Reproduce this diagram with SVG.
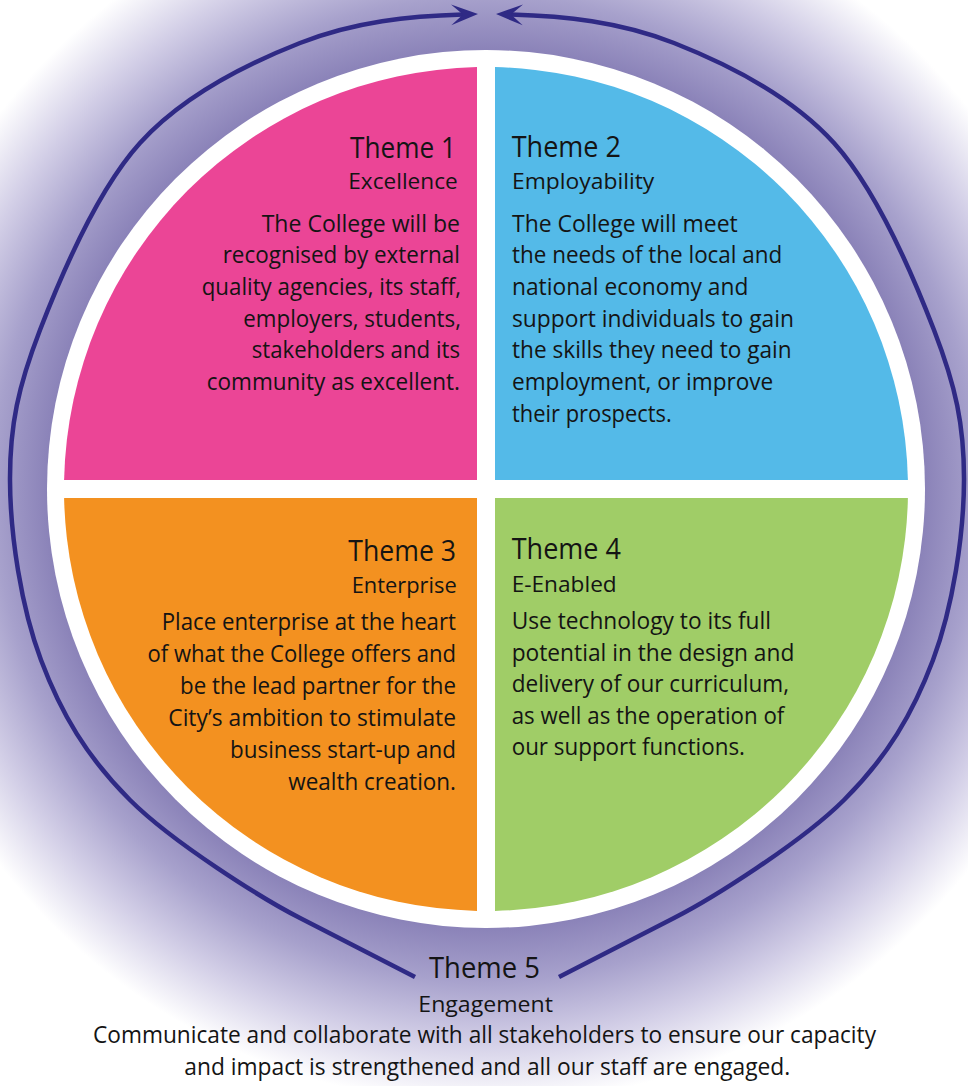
<svg xmlns="http://www.w3.org/2000/svg" width="968" height="1086" viewBox="0 0 968 1086">
<defs>
<radialGradient id="halo" gradientUnits="userSpaceOnUse" cx="486" cy="489" r="615">
<stop offset="0" stop-color="#8a82b8"/>
<stop offset="0.712" stop-color="#8a82b8"/>
<stop offset="0.8" stop-color="#a7a1cc"/>
<stop offset="0.9" stop-color="#d3cfe7"/>
<stop offset="1" stop-color="#ffffff"/>
</radialGradient>
<marker id="ah" markerUnits="userSpaceOnUse" viewBox="0 0 28 22" markerWidth="28" markerHeight="22" refX="12" refY="11" orient="auto">
<path d="M0,0.5 L27,11 L0,21.5 L12,11 Z" fill="#2f2a85"/>
</marker>
<style>
.t{font-family:"Open Sans","Noto Sans","DejaVu Sans",sans-serif;fill:#141414;}
.h{font-size:29px;}
.s{font-size:22px;}
.b{font-size:23.6px;}
.f{font-size:23px;}
.arc{fill:none;stroke:#2f2a85;stroke-width:4.5;marker-end:url(#ah);}
</style>
</defs>
<g id="background">
<rect x="0" y="0" width="968" height="1086" fill="url(#halo)"/>
<circle cx="486" cy="489" r="439" fill="#ffffff"/>
</g>
<g id="connectors">
<path class="arc" d="M415,977 L300,918 C263.3,899.3 173.2,843 130,800 C86.8,757 61,713.3 41,660 C21,606.7 10.2,535 10,480 C9.8,425 18.3,386.2 40,330 C61.7,273.8 96.7,190.8 140,143 C183.3,95.2 245.3,64.5 300,43 C354.7,21.5 410,16 463,14.5"/>
<path class="arc" d="M559,977 L674,918 C710.7,899.3 800.8,843 844,800 C887.2,757 913,713.3 933,660 C953,606.7 963.8,535 964,480 C964.2,425 955.7,386.2 934,330 C912.3,273.8 877.3,190.8 834,143 C790.7,95.2 728.7,64.5 674,43 C619.3,21.5 564,16 511,14.5"/>
</g>
<g id="theme1">
<path d="M477,480 L477,67.1 A422,422 0 0 0 64.1,480 Z" fill="#eb4596"/>
<text class="t h" x="350" y="157.5" textLength="106" lengthAdjust="spacingAndGlyphs">Theme 1</text>
<text class="t s" x="348.3" y="189" textLength="109.4" lengthAdjust="spacingAndGlyphs">Excellence</text>
<text class="t b" x="261.7" y="231.7" textLength="198.3" lengthAdjust="spacingAndGlyphs">The College will be</text>
<text class="t b" x="222.7" y="263.3" textLength="237.3" lengthAdjust="spacingAndGlyphs">recognised by external</text>
<text class="t b" x="201.7" y="295" textLength="259.3" lengthAdjust="spacingAndGlyphs">quality agencies, its staff,</text>
<text class="t b" x="243.3" y="326.7" textLength="217.7" lengthAdjust="spacingAndGlyphs">employers, students,</text>
<text class="t b" x="251.7" y="358.3" textLength="208.3" lengthAdjust="spacingAndGlyphs">stakeholders and its</text>
<text class="t b" x="206.7" y="390" textLength="253.3" lengthAdjust="spacingAndGlyphs">community as excellent.</text>
</g>
<g id="theme2">
<path d="M495,480 L495,67.1 A422,422 0 0 1 907.9,480 Z" fill="#54bae8"/>
<text class="t h" x="511.7" y="157.3" textLength="109.3" lengthAdjust="spacingAndGlyphs">Theme 2</text>
<text class="t s" x="512" y="189" textLength="142.3" lengthAdjust="spacingAndGlyphs">Employability</text>
<text class="t b" x="512" y="231.7" textLength="225.7" lengthAdjust="spacingAndGlyphs">The College will meet</text>
<text class="t b" x="512" y="263.3" textLength="270.3" lengthAdjust="spacingAndGlyphs">the needs of the local and</text>
<text class="t b" x="512" y="295" textLength="236.3" lengthAdjust="spacingAndGlyphs">national economy and</text>
<text class="t b" x="512" y="326.7" textLength="282" lengthAdjust="spacingAndGlyphs">support individuals to gain</text>
<text class="t b" x="512" y="358.3" textLength="279.7" lengthAdjust="spacingAndGlyphs">the skills they need to gain</text>
<text class="t b" x="512" y="390" textLength="261.3" lengthAdjust="spacingAndGlyphs">employment, or improve</text>
<text class="t b" x="512" y="421.7" textLength="159.7" lengthAdjust="spacingAndGlyphs">their prospects.</text>
</g>
<g id="theme3">
<path d="M477,498 L64.1,498 A422,422 0 0 0 477,910.9 Z" fill="#f39120"/>
<text class="t h" x="348.3" y="560.7" textLength="107.7" lengthAdjust="spacingAndGlyphs">Theme 3</text>
<text class="t s" x="351.7" y="593.3" textLength="105" lengthAdjust="spacingAndGlyphs">Enterprise</text>
<text class="t b" x="161.7" y="630" textLength="294.3" lengthAdjust="spacingAndGlyphs">Place enterprise at the heart</text>
<text class="t b" x="147.5" y="662" textLength="308.5" lengthAdjust="spacingAndGlyphs">of what the College offers and</text>
<text class="t b" x="180" y="694" textLength="276" lengthAdjust="spacingAndGlyphs">be the lead partner for the</text>
<text class="t b" x="168.3" y="725.5" textLength="287.7" lengthAdjust="spacingAndGlyphs">City’s ambition to stimulate</text>
<text class="t b" x="230" y="758" textLength="226" lengthAdjust="spacingAndGlyphs">business start-up and</text>
<text class="t b" x="288.3" y="789.5" textLength="167.7" lengthAdjust="spacingAndGlyphs">wealth creation.</text>
</g>
<g id="theme4">
<path d="M495,498 L907.9,498 A422,422 0 0 1 495,910.9 Z" fill="#a0cd67"/>
<text class="t h" x="511.7" y="559.3" textLength="109.3" lengthAdjust="spacingAndGlyphs">Theme 4</text>
<text class="t s" x="511.7" y="591.7" textLength="105" lengthAdjust="spacingAndGlyphs">E-Enabled</text>
<text class="t b" x="511.7" y="629" textLength="259.3" lengthAdjust="spacingAndGlyphs">Use technology to its full</text>
<text class="t b" x="511.7" y="660.5" textLength="282.6" lengthAdjust="spacingAndGlyphs">potential in the design and</text>
<text class="t b" x="511.7" y="692" textLength="277.3" lengthAdjust="spacingAndGlyphs">delivery of our curriculum,</text>
<text class="t b" x="511.7" y="723.5" textLength="272.6" lengthAdjust="spacingAndGlyphs">as well as the operation of</text>
<text class="t b" x="511.7" y="755" textLength="233.3" lengthAdjust="spacingAndGlyphs">our support functions.</text>
</g>
<g id="theme5">
<text class="t h" x="429" y="978.3" textLength="111" lengthAdjust="spacingAndGlyphs">Theme 5</text>
<text class="t s" x="418.3" y="1012" textLength="134.7" lengthAdjust="spacingAndGlyphs">Engagement</text>
<text class="t f" x="93" y="1043.3" textLength="783" lengthAdjust="spacingAndGlyphs">Communicate and collaborate with all stakeholders to ensure our capacity</text>
<text class="t f" x="184.3" y="1074.5" textLength="606" lengthAdjust="spacingAndGlyphs">and impact is strengthened and all our staff are engaged.</text>
</g>
</svg>
